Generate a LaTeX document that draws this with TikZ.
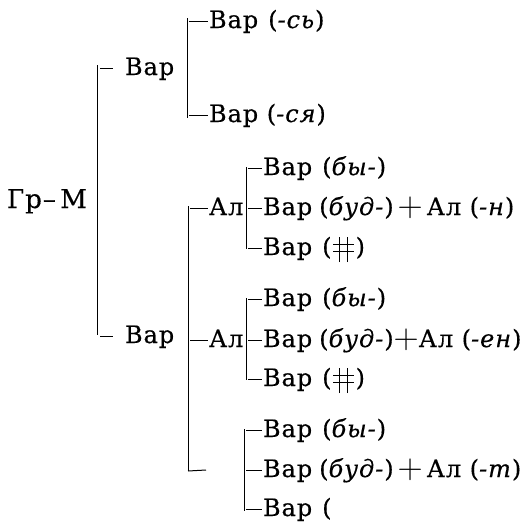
\documentclass[tikz,border=0pt]{standalone}
\usepackage{fontspec}
\setmainfont{DejaVu Serif}
\newfontfamily\diagfont{DejaVu Serif}[LetterSpace=4,FakeBold=0.4]
\newcommand\hashsym{\makebox[24pt][l]{%
 \rlap{\hspace{1.5pt}\rule[3pt]{21pt}{1.2pt}}%
 \rlap{\hspace{1.5pt}\rule[10pt]{21pt}{1.2pt}}%
 \rlap{\hspace{7.5pt}\rule[-7pt]{1.2pt}{25pt}}%
 \rlap{\hspace{15pt}\rule[-7pt]{1.2pt}{25pt}}}}
\newcommand\bigplus{\raisebox{-1.5pt}{\scalebox{1.4}{$+$}}}
\newcommand\brtick[4]{\path (#1 |- #2.base) coordinate (tmpc);
  \draw[brk] ([shift={(#3,7pt)}]tmpc) -- ([shift={(-#4,7pt)}]#2.base west);}
\begin{document}
\begin{tikzpicture}[x=1pt,y=-1pt,
  lbl/.style={anchor=base west, inner sep=0pt, outer sep=0pt, font=\diagfont\fontsize{24}{26}\selectfont},
  brk/.style={line width=1pt}]
\useasboundingbox (0,0) rectangle (524,523);
% labels
\node[lbl,font=\diagfont\fontsize{26}{28}\selectfont] (root) at (7,208) {Гр–\,М};
\node[lbl] (v1) at (125,75) {Вар};
\node[lbl] (v2) at (125,343) {Вар};
\node[lbl] (s1) at (209,28) {Вар\hspace{10pt}(\textit{-сь})};
\node[lbl] (s2) at (209,122) {Вар (\textit{-ся})};
\node[lbl] (a1) at (209,215) {Ал};
\node[lbl] (a2) at (209,347) {Ал};
\node[lbl] (g11) at (263,175) {Вар\hspace{10pt}(\textit{бы-})};
\node[lbl] (g12) at (263,215) {Вар\hspace{7pt}(\textit{буд-})\,\bigplus\,Ал (\textit{-н})};
\node[lbl] (g13) at (263,255) {Вар\hspace{10pt}(\hashsym)};
\node[lbl] (g21) at (263,306) {Вар\hspace{10pt}(\textit{бы-})};
\node[lbl] (g22) at (263,347) {Вар\hspace{7pt}(\textit{буд-})\bigplus Ал (\textit{-ен})};
\node[lbl] (g23) at (263,386) {Вар\hspace{10pt}(\hashsym)};
\node[lbl] (g31) at (263,437) {Вар\hspace{10pt}(\textit{бы-})};
\node[lbl] (g32) at (263,477) {Вар\hspace{7pt}(\textit{буд-})\,\bigplus\,Ал (\textit{-т})};
\node[lbl] (g33) at (263,516) {Вар\hspace{10pt}(};
% bracket lines
\coordinate (L0a) at (97,65);  \coordinate (L0b) at (97,335);
\coordinate (L1a) at (187,18); \coordinate (L1b) at (187,118);
\coordinate (L2a) at (188,206);\coordinate (L2b) at (188,471);
\coordinate (L3a) at (246,167);\coordinate (L3b) at (246,249);
\coordinate (L4a) at (246,298);\coordinate (L4b) at (246,380);
\coordinate (L5a) at (244,429);\coordinate (L5b) at (244,511);
\coordinate (blank) at (206,470);
\foreach \a/\b in {L0a/L0b,L1a/L1b,L2a/L2b,L3a/L3b,L4a/L4b,L5a/L5b}
  \draw[brk] (\a) -- (\b);
% ticks
\brtick{L0a}{v1}{3pt}{12pt}
\brtick{L0a}{v2}{3pt}{12pt}
\brtick{L1a}{s1}{2pt}{1pt}
\brtick{L1a}{s2}{2pt}{1pt}
\brtick{L2a}{a1}{2pt}{1pt}
\brtick{L2a}{a2}{2pt}{1pt}
\draw[brk] (L2b) -- (blank);
\brtick{L3a}{g11}{2pt}{1pt}
\brtick{L3a}{g12}{2pt}{1pt}
\brtick{L3a}{g13}{2pt}{1pt}
\brtick{L4a}{g21}{2pt}{1pt}
\brtick{L4a}{g22}{2pt}{1pt}
\brtick{L4a}{g23}{2pt}{1pt}
\brtick{L5a}{g31}{2pt}{1pt}
\brtick{L5a}{g32}{2pt}{1pt}
\brtick{L5a}{g33}{2pt}{1pt}
\end{tikzpicture}
\end{document}
